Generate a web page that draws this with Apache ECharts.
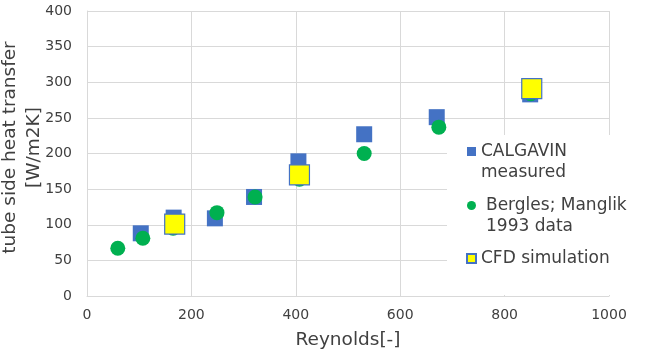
<!DOCTYPE html>
<html>
<head>
<meta charset="utf-8">
<script src="https://cdn.jsdelivr.net/npm/echarts@6/dist/echarts.min.js"></script>
<style>
  html, body { margin: 0; padding: 0; background: #fff; }
  #chart { width: 648px; height: 352px; }
</style>
</head>
<body>
<div id="chart"></div>
<script>
// [Reynolds, heat transfer W/m2K]
const calgavinMeasured = [
  [103, 88], [166, 110], [245, 109], [320, 139],
  [405, 189], [531, 227], [670, 251], [849, 283],
];
const berglesManglik = [
  [59, 67], [107, 81], [165, 95], [249, 117], [322, 139],
  [407, 164], [531, 200], [674, 237], [850, 284],
];
const cfdSimulation = [
  [168, 101], [407, 170], [852, 291],
];
const seriesNames = ['CALGAVIN\nmeasured', 'Bergles; Manglik\n1993 data', 'CFD simulation'];

const font = 'DejaVu Sans, Verdana, sans-serif';
const textColor = '#404040';
const gridColor = '#d9d9d9';

const chart = echarts.init(document.getElementById('chart'));
chart.setOption({
  animation: false,
  grid: {
    left: 87,
    right: 39,
    top: 11,
    bottom: 56,
    containLabel: false,
    outerBoundsMode: 'none',
  },
  // white box behind the legend, hides the grid lines like the original
  graphic: [{
    type: 'rect',
    z: 3,
    shape: { x: 447, y: 135, width: 165, height: 160 },
    style: { fill: '#fff' },
    silent: true,
  }],
  legend: {
    orient: 'vertical',
    left: 466,
    top: 120,
    padding: 0,
    itemWidth: 9,
    itemHeight: 9,
    itemGap: -9,
    // blank first line keeps the icon level with the first text line
    formatter: (name) => (name.indexOf('\n') >= 0 ? ' \n' + name : name),
    textStyle: {
      fontFamily: font,
      fontSize: 17,
      lineHeight: 21,
      color: textColor,
    },
    data: [
      { name: seriesNames[0], icon: 'rect' },
      { name: seriesNames[1], icon: 'circle', textStyle: { padding: [0, 0, 0, 5] } },
      { name: seriesNames[2], icon: 'rect', textStyle: { padding: [20, 0, 20, 0] } },
    ],
  },
  xAxis: {
    type: 'value',
    min: 0,
    max: 1000,
    interval: 200,
    name: 'Reynolds[-]',
    nameLocation: 'middle',
    nameGap: 33,
    nameMoveOverlap: false,
    nameTextStyle: {
      fontFamily: font,
      fontSize: 18.5,
      lineHeight: 22,
      color: textColor,
    },
    axisLine: { lineStyle: { color: gridColor } },
    axisTick: { show: false },
    axisLabel: {
      margin: 12,
      fontFamily: font,
      fontSize: 14,
      color: textColor,
      formatter: (v) => String(v),
    },
    splitLine: { lineStyle: { color: gridColor } },
  },
  yAxis: {
    type: 'value',
    min: 0,
    max: 400,
    interval: 50,
    name: 'tube side heat transfer\n[W/m2K]',
    nameLocation: 'middle',
    nameGap: 41,
    nameMoveOverlap: false,
    nameTextStyle: {
      fontFamily: font,
      fontSize: 18.5,
      lineHeight: 23.6,
      color: textColor,
      padding: [0, 0, 0, 12],
    },
    axisLine: { show: true, lineStyle: { color: gridColor } },
    axisTick: { show: false },
    axisLabel: {
      margin: 15,
      fontFamily: font,
      fontSize: 14,
      color: textColor,
      formatter: (v) => String(v),
    },
    splitLine: { lineStyle: { color: gridColor } },
  },
  series: [
    {
      name: seriesNames[0],
      type: 'scatter',
      symbol: 'rect',
      symbolSize: 16,
      itemStyle: { color: '#4472C4', opacity: 1 },
      data: calgavinMeasured,
    },
    {
      name: seriesNames[1],
      type: 'scatter',
      symbol: 'circle',
      symbolSize: 15,
      itemStyle: { color: '#00B050', opacity: 1 },
      data: berglesManglik,
    },
    {
      name: seriesNames[2],
      type: 'scatter',
      symbol: 'rect',
      symbolSize: 20,
      itemStyle: { color: '#FFFF00', borderColor: '#4472C4', borderWidth: 1.2, opacity: 1 },
      data: cfdSimulation,
    },
  ],
});
</script>
</body>
</html>
